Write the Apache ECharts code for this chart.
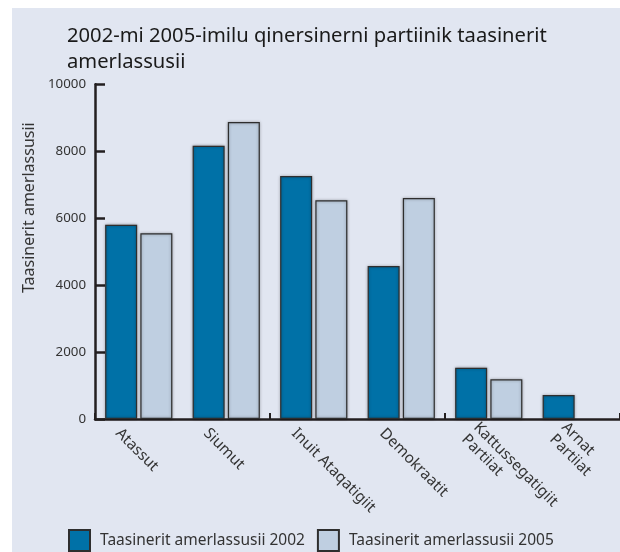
<!DOCTYPE html>
<html>
<head>
<meta charset="utf-8">
<script src="https://cdn.jsdelivr.net/npm/echarts@6/dist/echarts.min.js"></script>
<style>
html,body{margin:0;padding:0;background:#ffffff;}
#chart{width:620px;height:552px;}
</style>
</head>
<body>
<div id="chart"></div>
<script>
const titleText = '2002-mi 2005-imilu qinersinerni partiinik taasinerit\namerlassusii';
const yAxisName = 'Taasinerit amerlassusii';
const categories = ['Atassut', 'Siumut', 'Inuit Ataqatigiit', 'Demokraatit', 'Kattussegatigiit\nPartiiat', 'Arnat\nPartiiat'];
const seriesNames = ['Taasinerit amerlassusii 2002', 'Taasinerit amerlassusii 2005'];
const votes2002 = [5800, 8165, 7260, 4570, 1530, 717];
const votes2005 = [5550, 8870, 6535, 6600, 1185, null];
const yTicks = [0, 2000, 4000, 6000, 8000, 10000];

const FONT = '"Noto Sans", "Open Sans", sans-serif';
const axisColor = '#231f20';
const textColor = '#333333';

const chart = echarts.init(document.getElementById('chart'), null, {renderer: 'canvas'});
const barStyle = (color) => ({
  color: color,
  borderColor: '#2e2e2e',
  borderWidth: 1.2,
  shadowBlur: 3,
  shadowColor: 'rgba(0,0,0,0.35)'
});

const option = {
  animation: false,
  textStyle: {fontFamily: FONT},
  graphic: [{
    type: 'rect', z: -10, silent: true,
    shape: {x: 12, y: 8, width: 608, height: 544},
    style: {fill: '#e1e6f1'}
  }],
  title: {
    text: titleText,
    left: 67, top: 23, padding: 0,
    textStyle: {fontFamily: FONT, fontSize: 20.2, fontWeight: 'normal', color: '#1a1a1a', lineHeight: 26}
  },
  legend: {
    left: 68, top: 529, padding: 0,
    itemWidth: 21, itemHeight: 21, itemGap: 12,
    icon: 'rect',
    textStyle: {fontFamily: FONT, fontSize: 15.5, color: textColor, padding: [0, 0, 0, 5]},
    data: seriesNames
  },
  grid: [
    {left: 95, top: 84.3, width: 528, height: 334.7},
    {left: 74, top: 84.3, width: 528, height: 334.7}
  ],
  xAxis: [{
    type: 'category', gridIndex: 0, data: categories,
    axisLine: {lineStyle: {color: axisColor, width: 2.5}},
    axisTick: {show: true, inside: true, length: 6, alignWithLabel: false, lineStyle: {color: axisColor, width: 2}},
    axisLabel: {show: false},
    splitLine: {show: false}
  }, {
    type: 'category', gridIndex: 1, data: categories,
    axisLine: {show: false}, axisTick: {show: false}, splitLine: {show: false},
    axisLabel: {
      show: true, rotate: -45, margin: 12, interval: 0,
      fontFamily: FONT, fontSize: 15.3, color: textColor, lineHeight: 17
    }
  }],
  yAxis: [{
    type: 'value', gridIndex: 0, min: yTicks[0], max: yTicks[yTicks.length - 1], interval: 2000,
    name: yAxisName, nameLocation: 'middle', nameGap: 49, nameRotate: 90,
    nameTextStyle: {fontFamily: FONT, fontSize: 16, color: textColor, padding: [0, 0, 0, 88]},
    axisLine: {show: true, lineStyle: {color: axisColor, width: 2.5}},
    axisTick: {show: true, inside: true, length: 10, lineStyle: {color: axisColor, width: 2.5}},
    axisLabel: {margin: 9, fontFamily: FONT, fontSize: 13.3, color: textColor, formatter: (v) => String(v)},
    splitLine: {show: false}
  }, {
    type: 'value', gridIndex: 1, min: 0, max: 10000, show: false
  }],
  series: [{
    name: seriesNames[0], type: 'bar', xAxisIndex: 0, yAxisIndex: 0,
    data: votes2002, barWidth: 32, barGap: '10%',
    itemStyle: barStyle('#0071a7')
  }, {
    name: seriesNames[1], type: 'bar', xAxisIndex: 0, yAxisIndex: 0,
    data: votes2005, barWidth: 32, barGap: '10%',
    itemStyle: barStyle('#bfcfe1')
  }]
};
chart.setOption(option);
</script>
</body>
</html>
